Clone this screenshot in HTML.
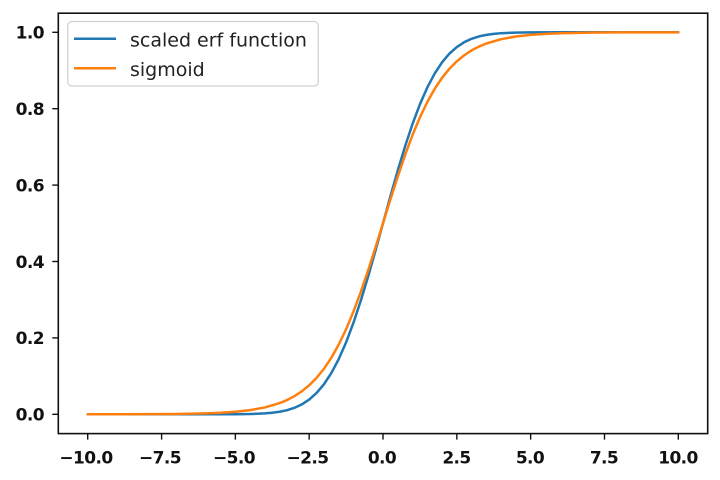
<!DOCTYPE html>
<html>
<head>
<meta charset="utf-8">
<style>
  html, body { margin: 0; padding: 0; background: #fff; }
  svg { display: block; }
  .tl { font-family: "DejaVu Sans", "Liberation Sans", sans-serif; font-weight: bold; font-size: 17px; fill: #111; letter-spacing: -0.6px; }
  .lg { font-family: "DejaVu Sans", "Liberation Sans", sans-serif; font-size: 19px; fill: #222; }
</style>
</head>
<body>
<svg width="720" height="480" viewBox="0 0 720 480" xmlns="http://www.w3.org/2000/svg">
  <rect x="0" y="0" width="720" height="480" fill="#fff"/>

  <!-- blue: scaled erf -->
  <polyline fill="none" stroke="#1f77b4" stroke-width="2.5" stroke-linejoin="round" stroke-linecap="round"
    points="87.7,414.3 205.82,414.3 235.35,414.22 250.12,414.02 264.88,413.41 272.26,412.76 279.65,411.75 287.03,410.19 294.41,407.83 301.79,404.41 309.18,399.57 316.56,392.98 323.94,384.26 331.32,373.06 338.71,359.13 346.09,342.34 353.47,322.72 360.85,300.49 368.24,276.08 375.62,250.10 383,223.3 390.38,196.50 397.77,170.52 405.15,146.11 412.53,123.88 419.91,104.26 427.30,87.47 434.68,73.54 442.06,62.34 449.44,53.62 456.83,47.03 464.21,42.19 471.59,38.77 478.97,36.41 486.36,34.85 493.74,33.84 501.12,33.19 515.89,32.58 530.65,32.38 560.18,32.3 678.3,32.3"/>

  <!-- orange: sigmoid -->
  <polyline fill="none" stroke="#ff7f0e" stroke-width="2.5" stroke-linejoin="round" stroke-linecap="round"
    points="87.7,414.28 146.76,414.17 176.29,413.95 205.82,413.36 220.59,412.75 235.35,411.74 250.12,410.10 264.88,407.42 279.65,403.11 287.03,400.04 294.41,396.19 301.79,391.34 309.18,385.31 316.56,377.90 323.94,368.77 331.32,357.76 338.71,344.62 346.09,329.23 353.47,311.58 360.85,291.75 368.24,270.09 375.62,247.06 383,223.3 390.38,199.54 397.77,176.51 405.15,154.85 412.53,135.02 419.91,117.37 427.30,101.98 434.68,88.84 442.06,77.83 449.44,68.70 456.83,61.29 464.21,55.26 471.59,50.41 478.97,46.56 486.36,43.49 501.12,39.18 515.89,36.50 530.65,34.86 545.42,33.85 560.18,33.24 589.71,32.65 619.24,32.43 678.3,32.32"/>

  <!-- axes frame -->
  <rect x="58.3" y="13.2" width="649.4" height="420.4" fill="none" stroke="#111" stroke-width="1.6"/>

  <!-- y ticks -->
  <g stroke="#111" stroke-width="1.4">
    <line x1="52.3" y1="414.3" x2="58.3" y2="414.3"/>
    <line x1="52.3" y1="337.9" x2="58.3" y2="337.9"/>
    <line x1="52.3" y1="261.5" x2="58.3" y2="261.5"/>
    <line x1="52.3" y1="185.1" x2="58.3" y2="185.1"/>
    <line x1="52.3" y1="108.7" x2="58.3" y2="108.7"/>
    <line x1="52.3" y1="32.3" x2="58.3" y2="32.3"/>
  </g>
  <g class="tl" text-anchor="end">
    <text x="44" y="420.6">0.0</text>
    <text x="44" y="344.2">0.2</text>
    <text x="44" y="267.8">0.4</text>
    <text x="44" y="191.4">0.6</text>
    <text x="44" y="115.0">0.8</text>
    <text x="44" y="38.6">1.0</text>
  </g>

  <!-- x ticks -->
  <g stroke="#111" stroke-width="1.4">
    <line x1="87.7" y1="433.6" x2="87.7" y2="439.6"/>
    <line x1="161.6" y1="433.6" x2="161.6" y2="439.6"/>
    <line x1="235.35" y1="433.6" x2="235.35" y2="439.6"/>
    <line x1="309.18" y1="433.6" x2="309.18" y2="439.6"/>
    <line x1="383" y1="433.6" x2="383" y2="439.6"/>
    <line x1="456.83" y1="433.6" x2="456.83" y2="439.6"/>
    <line x1="530.65" y1="433.6" x2="530.65" y2="439.6"/>
    <line x1="604.5" y1="433.6" x2="604.5" y2="439.6"/>
    <line x1="678.3" y1="433.6" x2="678.3" y2="439.6"/>
  </g>
  <g class="tl" text-anchor="middle">
    <text x="86" y="463.5">−10.0</text>
    <text x="160" y="463.5">−7.5</text>
    <text x="234" y="463.5">−5.0</text>
    <text x="307.5" y="463.5">−2.5</text>
    <text x="382" y="463.5">0.0</text>
    <text x="456.5" y="463.5">2.5</text>
    <text x="530" y="463.5">5.0</text>
    <text x="604" y="463.5">7.5</text>
    <text x="678" y="463.5">10.0</text>
  </g>

  <!-- legend -->
  <rect x="67.8" y="21.5" width="250.5" height="64.5" rx="4" ry="4" fill="#fff" fill-opacity="0.8" stroke="#d0d0d0" stroke-width="1.2"/>
  <line x1="74" y1="38.8" x2="116" y2="38.8" stroke="#1f77b4" stroke-width="2.5"/>
  <line x1="74" y1="68.3" x2="116" y2="68.3" stroke="#ff7f0e" stroke-width="2.5"/>
  <text class="lg" x="130" y="46.5">scaled erf function</text>
  <text class="lg" x="130" y="76">sigmoid</text>
</svg>
</body>
</html>
